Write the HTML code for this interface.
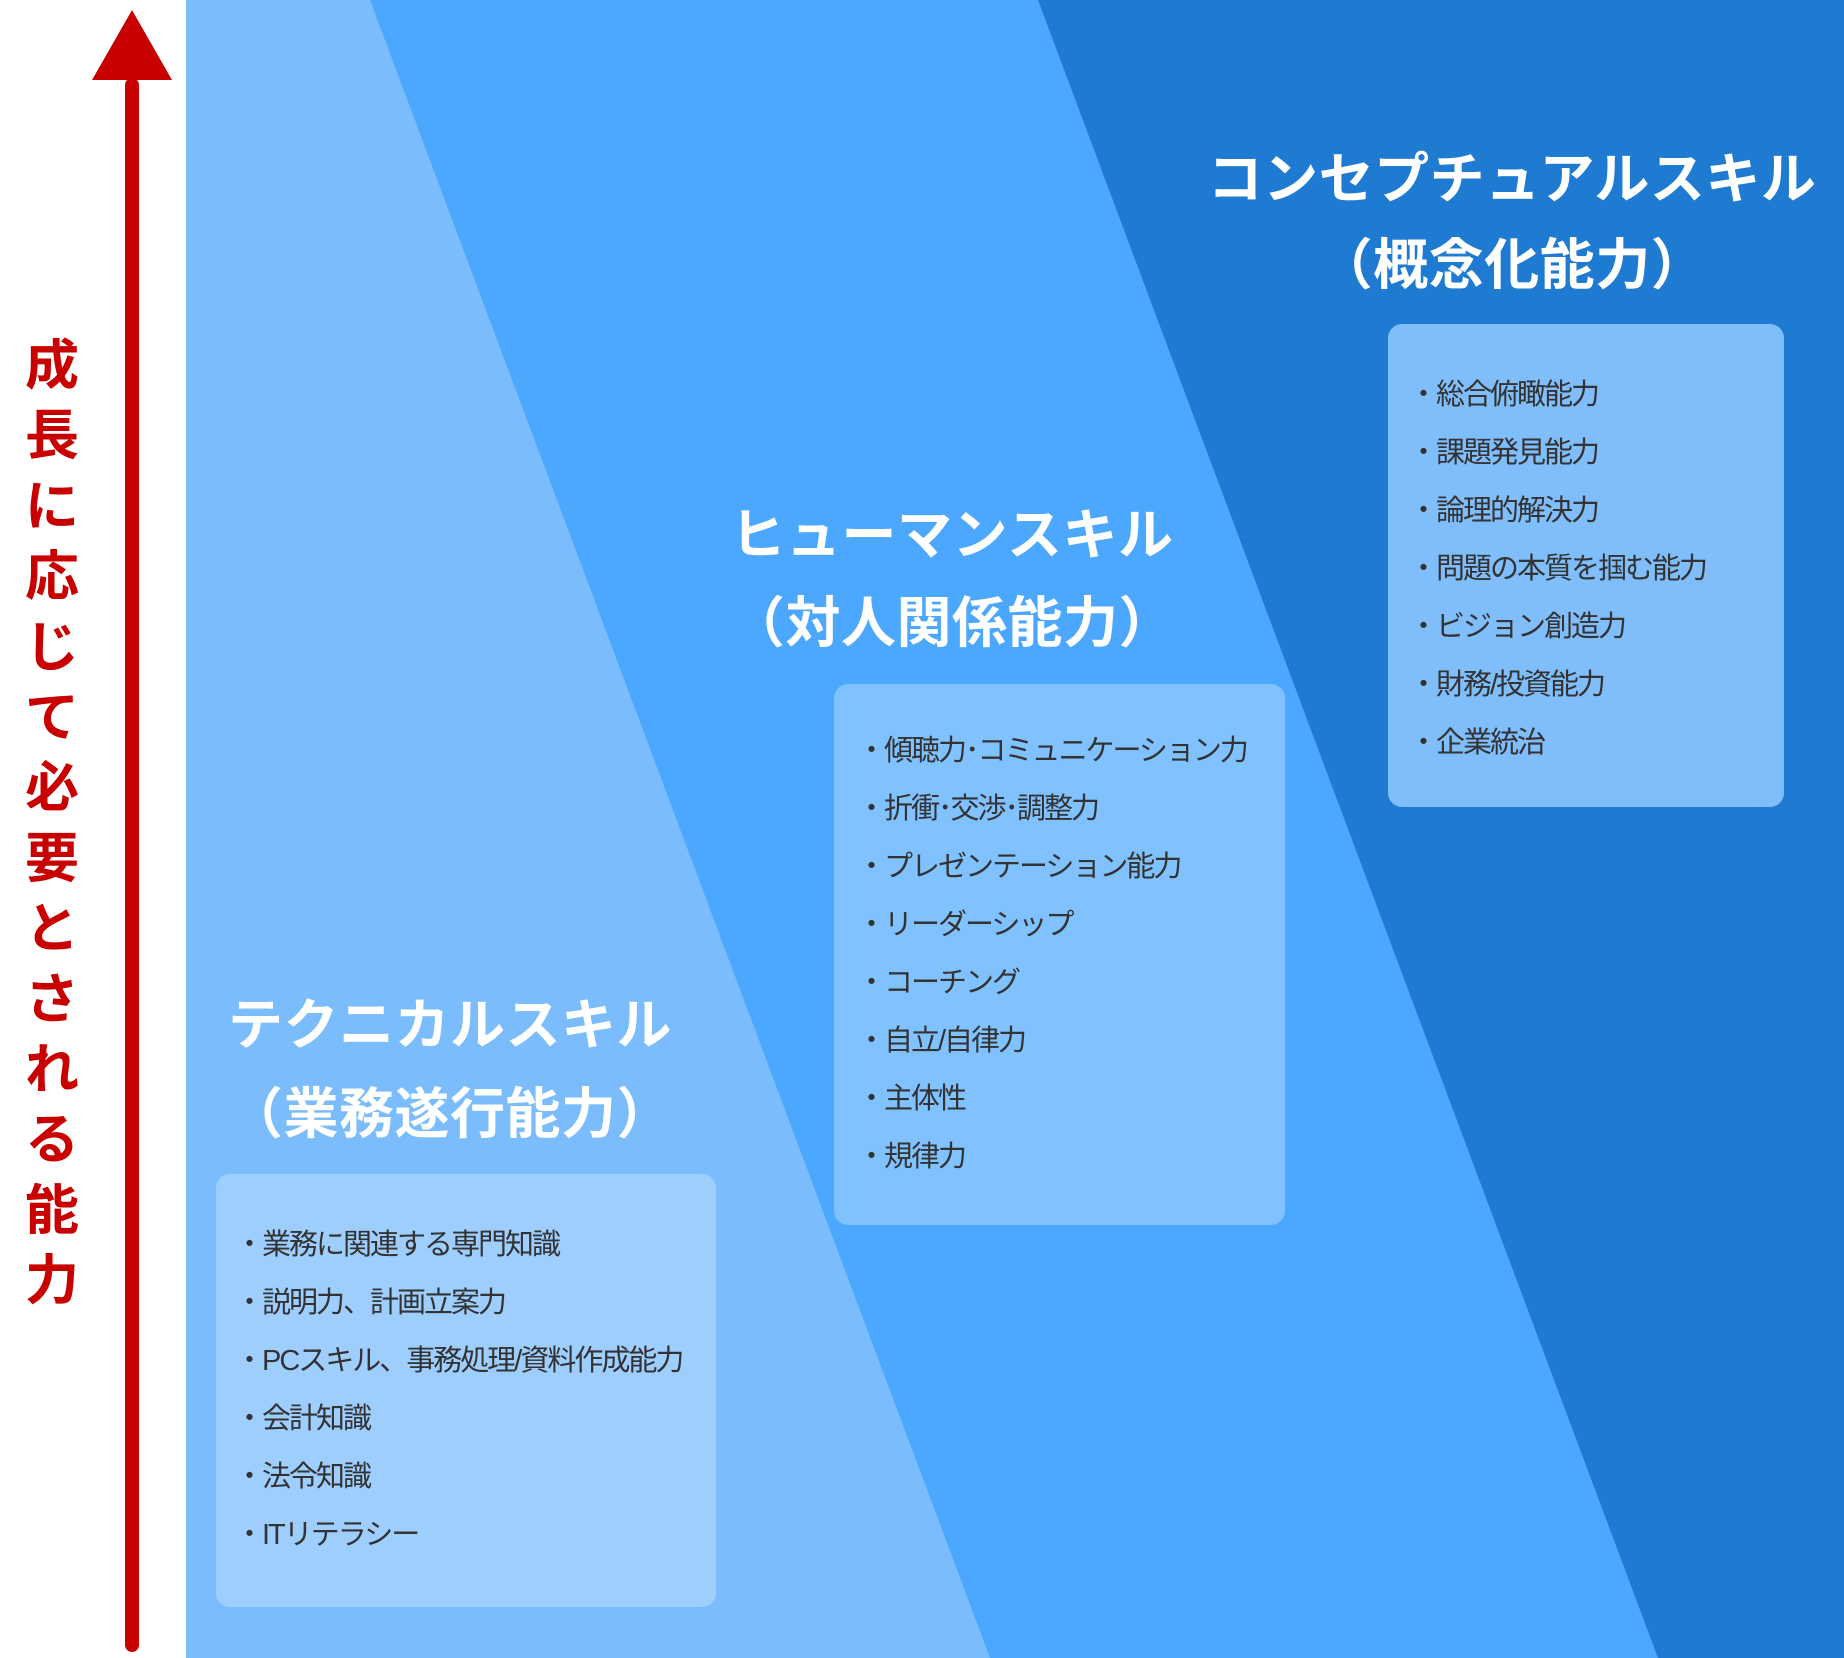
<!DOCTYPE html>
<html><head><meta charset="utf-8"><style>
body{margin:0;width:1844px;height:1658px;position:relative;overflow:hidden;background:#fff;font-family:"Liberation Sans","Noto Sans CJK JP",sans-serif}
.abs{position:absolute}
.title{position:absolute;color:#fff;font-weight:bold;font-size:55px;text-align:center;width:800px;line-height:64px;white-space:nowrap;letter-spacing:0.5px}
.box{position:absolute;border-radius:14px}
.list{position:absolute;color:#333;font-size:29px;line-height:58px;white-space:nowrap;letter-spacing:-2px}
.v{position:absolute;left:22px;top:331px;width:60px;color:#c80000;font-weight:bold;font-size:54px;line-height:70.4px;text-align:center}
</style></head><body>
<svg class="abs" style="left:0;top:0" width="1844" height="1658">
<rect x="186" y="0" width="1658" height="1658" fill="#7bbdfc"/>
<polygon points="370,0 1844,0 1844,1658 990,1658" fill="#4ba8fe"/>
<polygon points="1038,0 1844,0 1844,1658 1658,1658" fill="#1f7bd2"/>
<polygon points="132,10 172,80 92,80" fill="#c80000"/>
<rect x="125" y="78" width="14" height="1574" rx="7" fill="#c80000"/>
</svg>
<div class="v">成<br>長<br>に<br>応<br>じ<br>て<br>必<br>要<br>と<br>さ<br>れ<br>る<br>能<br>力</div>
<div class="title" style="left:1112px;top:147px">コンセプチュアルスキル<br><span style="position:relative;top:22px">（概念化能力）</span></div>
<div class="title" style="left:552px;top:503px">ヒューマンスキル<br><span style="position:relative;top:24px">（対人関係能力）</span></div>
<div class="title" style="left:50px;top:993px">テクニカルスキル<br><span style="position:relative;top:25px">（業務遂行能力）</span></div>
<div class="box" style="left:1388px;top:324px;width:396px;height:483px;background:#7fbdfb"></div>
<div class="box" style="left:834px;top:684px;width:451px;height:541px;background:#80c2ff"></div>
<div class="box" style="left:216px;top:1174px;width:500px;height:433px;background:#9dcefe"></div>
<div class="list" style="left:1409px;top:366px">・総合俯瞰能力<br>・課題発見能力<br>・論理的解決力<br>・問題の本質を掴む能力<br>・ビジョン創造力<br>・財務/投資能力<br>・企業統治</div>
<div class="list" style="left:857px;top:722px">・傾聴力･コミュニケーション力<br>・折衝･交渉･調整力<br>・プレゼンテーション能力<br>・リーダーシップ<br>・コーチング<br>・自立/自律力<br>・主体性<br>・規律力</div>
<div class="list" style="left:235px;top:1216px">・業務に関連する専門知識<br>・説明力、計画立案力<br>・PCスキル、事務処理/資料作成能力<br>・会計知識<br>・法令知識<br>・ITリテラシー</div>
</body></html>
